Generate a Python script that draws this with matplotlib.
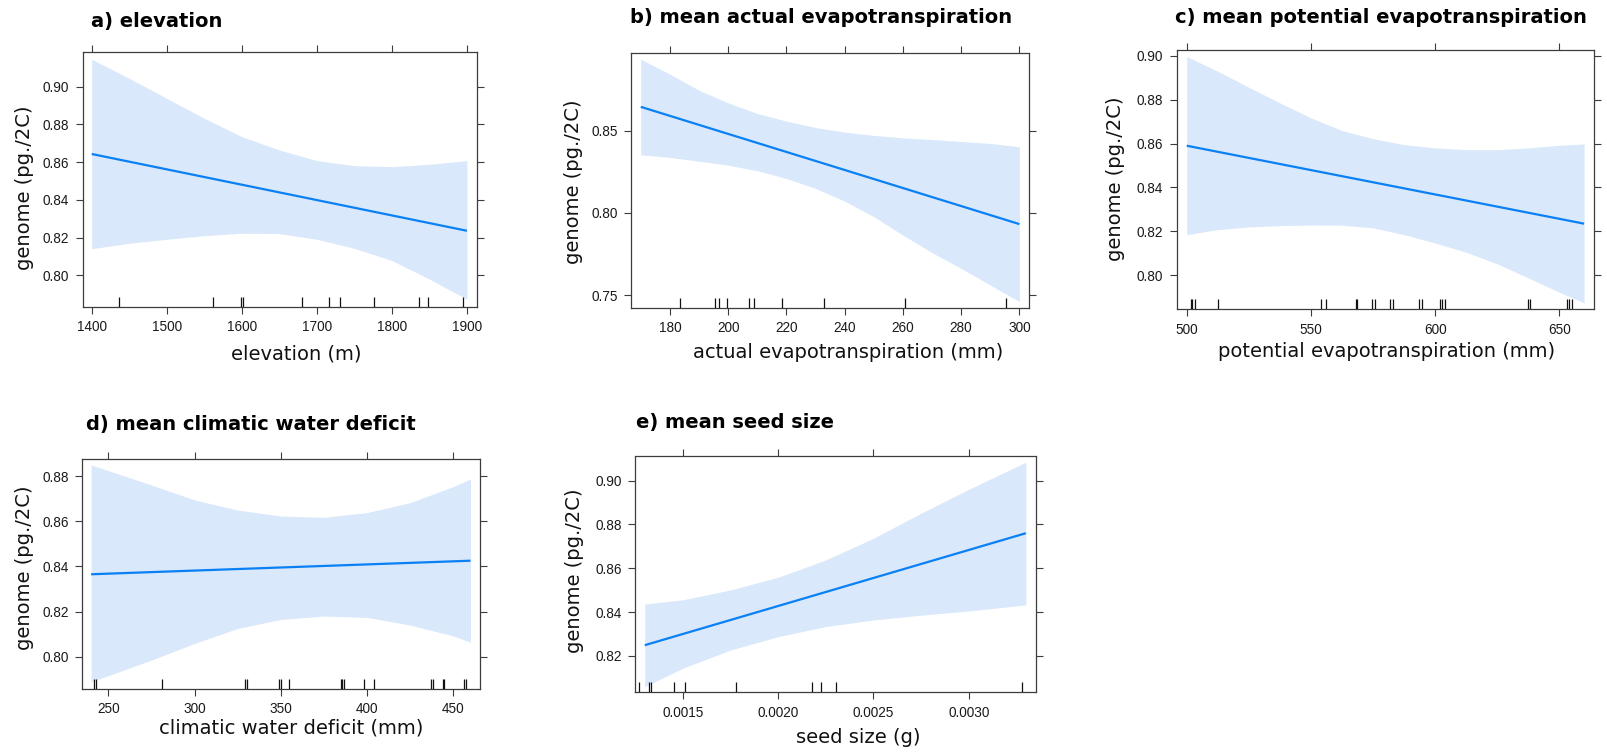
import matplotlib
matplotlib.use("Agg")
import matplotlib.pyplot as plt

# ---------------- data ----------------
# a) elevation
elev_x = [1400, 1450, 1500, 1550, 1600, 1650, 1700, 1750, 1800, 1850, 1900]
elev_upper = [0.9145, 0.9044, 0.8938, 0.8832, 0.8735, 0.8664, 0.8608, 0.8581, 0.8576, 0.8588, 0.8608]
elev_lower = [0.8141, 0.8170, 0.8191, 0.8210, 0.8223, 0.8221, 0.8191, 0.8143, 0.8078, 0.7980, 0.7873]
elev_fit_x = [1400, 1900]
elev_fit_y = [0.8643, 0.8236]
elev_rug = [1436.4, 1562.2, 1598.7, 1601.3, 1680.0, 1715.6, 1731.1, 1775.6, 1835.6, 1848.0, 1895.1]

# b) mean actual evapotranspiration
aet_x = [170, 180, 190, 200, 210, 220, 230, 240, 250, 260, 270, 280, 290, 300]
aet_upper = [0.8936, 0.8845, 0.8747, 0.8670, 0.8605, 0.8559, 0.8520, 0.8492, 0.8472, 0.8457, 0.8447, 0.8435, 0.8423, 0.8403]
aet_lower = [0.8354, 0.8338, 0.8315, 0.8291, 0.8257, 0.8210, 0.8149, 0.8072, 0.7977, 0.7865, 0.7758, 0.7662, 0.7561, 0.7460]
aet_fit_x = [170, 300]
aet_fit_y = [0.8646, 0.7932]
aet_rug = [183.4, 195.6, 196.7, 199.5, 207.2, 209.0, 218.5, 233.0, 260.6, 295.4]

# c) mean potential evapotranspiration
pet_x = [500, 512.5, 525, 537.5, 550, 562.5, 575, 587.5, 600, 612.5, 625, 637.5, 650, 660]
pet_upper = [0.8996, 0.8929, 0.8856, 0.8785, 0.8717, 0.8659, 0.8622, 0.8595, 0.8580, 0.8572, 0.8572, 0.8580, 0.8592, 0.8598]
pet_lower = [0.8185, 0.8208, 0.8220, 0.8226, 0.8229, 0.8228, 0.8216, 0.8185, 0.8147, 0.8105, 0.8052, 0.7988, 0.7923, 0.7874]
pet_fit_x = [500, 660]
pet_fit_y = [0.8590, 0.8235]
pet_rug = [501.6, 502.3, 503.5, 512.5, 553.9, 556.2, 568.3, 568.7, 574.6, 575.9, 582.0, 583.2,
           593.6, 594.6, 602.0, 602.8, 603.8, 637.5, 638.2, 653.3, 654.0, 655.1]

# d) mean climatic water deficit
cwd_x = [240, 275, 300, 325, 350, 375, 400, 425, 450, 460]
cwd_upper = [0.8849, 0.8760, 0.8694, 0.8649, 0.8623, 0.8617, 0.8638, 0.8682, 0.8753, 0.8787]
cwd_lower = [0.7889, 0.7985, 0.8059, 0.8125, 0.8165, 0.8180, 0.8174, 0.8140, 0.8092, 0.8064]
cwd_fit_x = [240, 460]
cwd_fit_y = [0.8365, 0.8425]
cwd_rug = [241.7, 242.8, 280.9, 329.2, 330.2, 349.1, 350.1, 354.5, 384.7, 385.7, 386.6,
           398.2, 404.0, 437.1, 438.0, 443.8, 444.4, 456.2, 457.3]

# e) mean seed size
seed_x = [0.0013, 0.0015, 0.00175, 0.0020, 0.00225, 0.0025, 0.00275, 0.0030, 0.0033]
seed_upper = [0.8437, 0.8456, 0.8501, 0.8559, 0.8638, 0.8737, 0.8851, 0.8960, 0.9084]
seed_lower = [0.8060, 0.8144, 0.8227, 0.8288, 0.8334, 0.8364, 0.8386, 0.8405, 0.8433]
seed_fit_x = [0.0013, 0.0033]
seed_fit_y = [0.8249, 0.8760]
seed_rug = [0.001268, 0.001321, 0.001332, 0.001455, 0.001513, 0.001777, 0.002180, 0.002223, 0.002301, 0.003281]

titles = ["a) elevation", "b) mean actual evapotranspiration", "c) mean potential evapotranspiration",
          "d) mean climatic water deficit", "e) mean seed size"]
xlabels = ["elevation (m)", "actual evapotranspiration (mm)", "potential evapotranspiration (mm)",
           "climatic water deficit (mm)", "seed size (g)"]
ylabel = "genome (pg./2C)"

xticks_list = [[1400, 1500, 1600, 1700, 1800, 1900],
               [180, 200, 220, 240, 260, 280, 300],
               [500, 550, 600, 650],
               [250, 300, 350, 400, 450],
               [0.0015, 0.0020, 0.0025, 0.0030]]
xtick_fmt = ["{:.0f}", "{:.0f}", "{:.0f}", "{:.0f}", "{:.4f}"]
yticks_list = [[0.80, 0.82, 0.84, 0.86, 0.88, 0.90],
               [0.75, 0.80, 0.85],
               [0.80, 0.82, 0.84, 0.86, 0.88, 0.90],
               [0.80, 0.82, 0.84, 0.86, 0.88],
               [0.82, 0.84, 0.86, 0.88, 0.90]]

# ---------------- layout (pixels) ----------------
W, H = 1608, 753
# axes box: left, right, top, bottom
boxes = [(82.7, 476.7, 52.3, 307.0),
         (631.2, 1028.7, 52.5, 308.0),
         (1176.6, 1594.3, 50.0, 309.3),
         (82.0, 480.0, 459.3, 689.0),
         (635.3, 1036.0, 456.5, 692.3)]
xlims = [(1388, 1913), (166.7, 303.2), (495.9, 664.1), (234.7, 465.5), (0.0012502, 0.0033532)]
ylims = [(0.7832, 0.9182), (0.7421, 0.8977), (0.7845, 0.9026), (0.7857, 0.8874), (0.8034, 0.9110)]
title_pos = [(91.0, 26.7), (630.0, 23.3), (1175.5, 22.7), (86.5, 430.0), (636.5, 428.3)]
xlabel_pos = [(296.0, 359.3), (848.0, 358.3), (1386.5, 357.3), (291.0, 733.3), (858.5, 742.7)]
ylabel_pos = [(25.0, 188.0), (573.5, 181.7), (1115.5, 178.3), (25.0, 567.5), (574.4, 570.8)]

series = [(elev_x, elev_upper, elev_lower, elev_fit_x, elev_fit_y, elev_rug),
          (aet_x, aet_upper, aet_lower, aet_fit_x, aet_fit_y, aet_rug),
          (pet_x, pet_upper, pet_lower, pet_fit_x, pet_fit_y, pet_rug),
          (cwd_x, cwd_upper, cwd_lower, cwd_fit_x, cwd_fit_y, cwd_rug),
          (seed_x, seed_upper, seed_lower, seed_fit_x, seed_fit_y, seed_rug)]

LINE = "#0A80F5"
BAND = "#D9E8FA"
FRAME = "#3C3C3C"
RUG_PX = 10.0

fig = plt.figure(figsize=(W / 100, H / 100), dpi=100)

for i in range(5):
    left, right, top, bottom = boxes[i]
    ax = fig.add_axes([left / W, 1 - bottom / H, (right - left) / W, (bottom - top) / H])
    x, up, lo, fx, fy, rug = series[i]

    ax.fill_between(x, lo, up, color=BAND, linewidth=0, zorder=1)
    ax.plot(fx, fy, color=LINE, linewidth=1.6, zorder=3, solid_capstyle="butt")
    rug_frac = RUG_PX / (bottom - top)
    ax.vlines(rug, 0, rug_frac, transform=ax.get_xaxis_transform(),
              colors="#111111", linewidth=0.9, zorder=4)

    ax.set_xlim(*xlims[i])
    ax.set_ylim(*ylims[i])
    ax.set_xticks(xticks_list[i])
    ax.set_xticklabels([xtick_fmt[i].format(v) for v in xticks_list[i]])
    ax.set_yticks(yticks_list[i])
    ax.set_yticklabels(["{:.2f}".format(v) for v in yticks_list[i]])

    for s in ax.spines.values():
        s.set_color(FRAME)
        s.set_linewidth(0.9)
    ax.tick_params(which="both", direction="out", top=True, right=True,
                   labeltop=False, labelright=False, length=5.0, width=0.8,
                   color=FRAME, pad=4.6, labelsize=9.8, labelcolor="#1A1A1A")
    for lab in ax.get_xticklabels() + ax.get_yticklabels():
        lab.set_family("Liberation Sans")

    tx, ty = title_pos[i]
    fig.text(tx / W, 1 - ty / H, titles[i], ha="left", va="baseline",
             fontsize=14, fontweight="bold", family="DejaVu Sans", color="black")
    lx, ly = xlabel_pos[i]
    fig.text(lx / W, 1 - ly / H, xlabels[i], ha="center", va="baseline",
             fontsize=14, family="DejaVu Sans", color="#111111")
    yx, yy = ylabel_pos[i]
    fig.text(yx / W, 1 - yy / H, ylabel, ha="center", va="center", rotation=90,
             fontsize=14, family="DejaVu Sans", color="#111111")

fig.savefig("out.png", dpi=100, facecolor="white")
